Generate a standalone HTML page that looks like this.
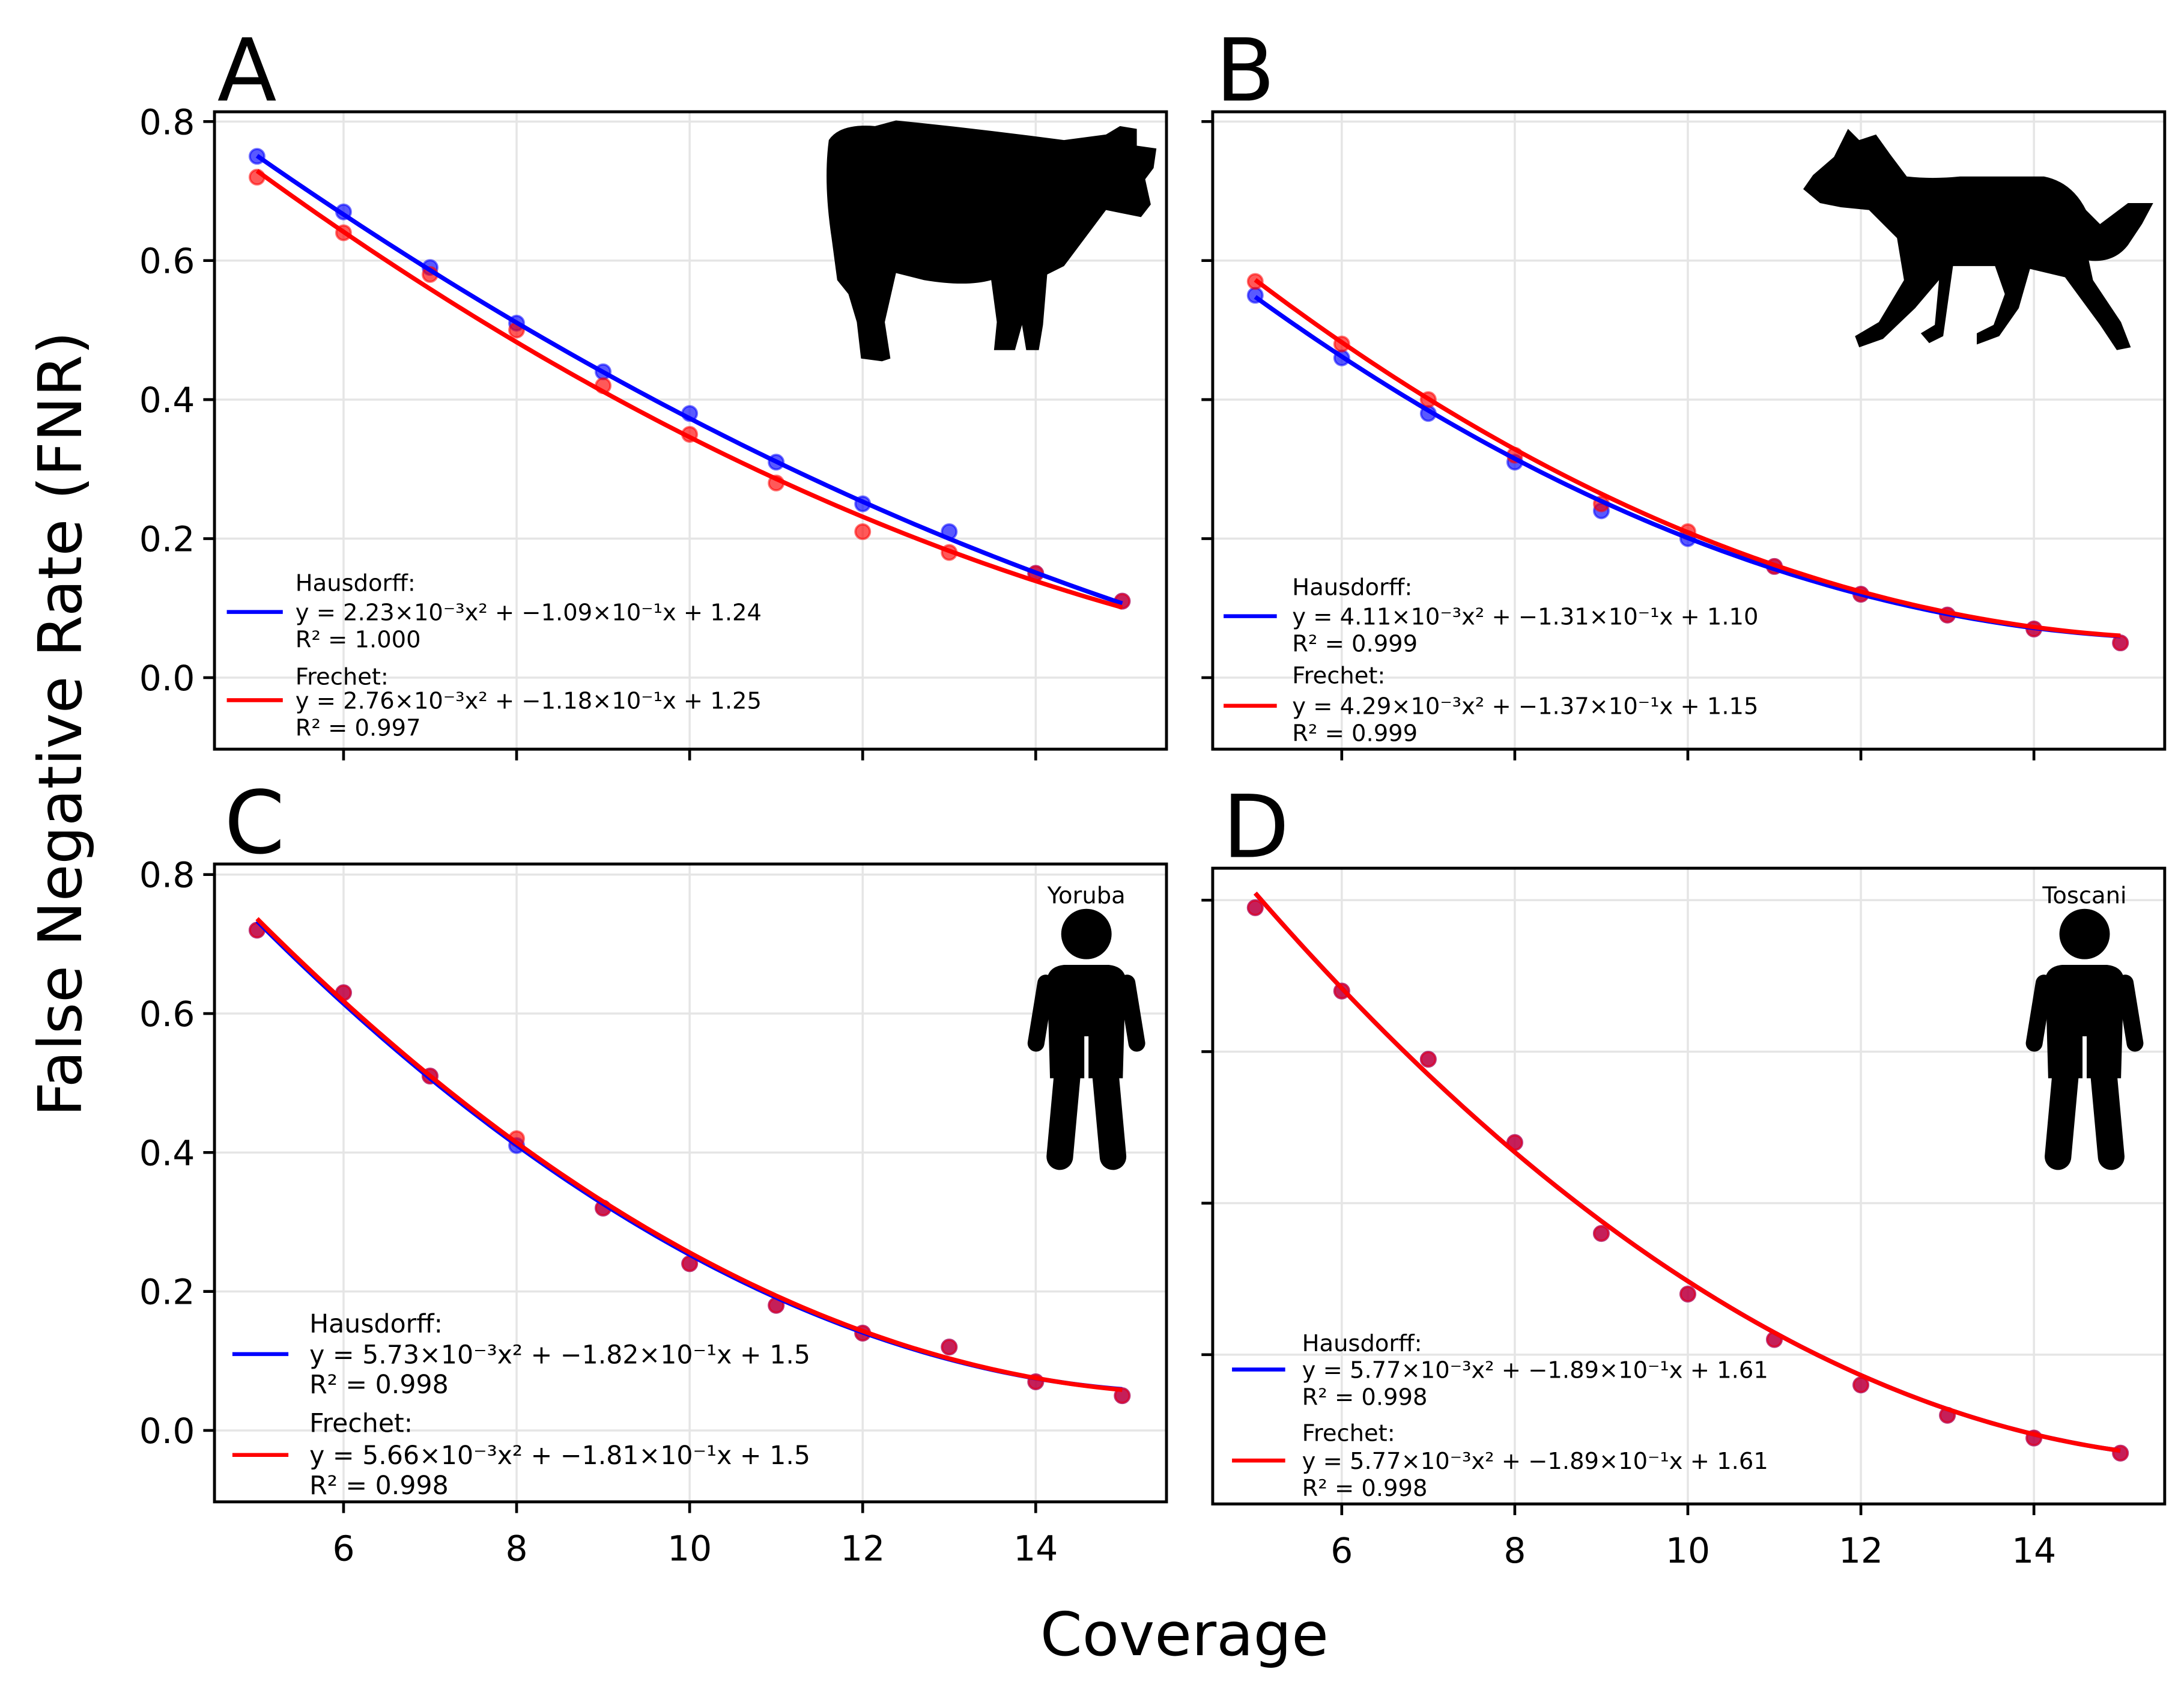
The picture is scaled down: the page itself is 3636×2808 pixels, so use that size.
<!DOCTYPE html>
<html><head><meta charset="utf-8"><style>
html,body{margin:0;padding:0;background:#fff}
svg{display:block}
text{font-family:"DejaVu Sans","Liberation Sans",sans-serif}
</style></head><body>
<svg id="fig" xmlns="http://www.w3.org/2000/svg" width="3636" height="2808" viewBox="0 0 1560 1204.7">
<rect width="1560" height="1204.7" fill="#fff"/>
<g id="content"></g>
<text x="0" y="0" font-size="43" text-anchor="middle" transform="translate(58,517) rotate(-90)">False Negative Rate (FNR)</text>
<text x="846" y="1182" font-size="43" text-anchor="middle">Coverage</text>
</svg>
<script>
const xs = [5,6,7,8,9,10,11,12,13,14,15];
const xTicks = [6,8,10,12,14];
const yTicks = [0.0,0.2,0.4,0.6,0.8];
const yTickLabels = ["0.0","0.2","0.4","0.6","0.8"];
const dTicks = [0.2,0.4,0.6,0.8];
const aHaus = [0.75,0.67,0.59,0.51,0.44,0.38,0.31,0.25,0.21,0.15,0.11];
const aFrec = [0.72,0.64,0.58,0.50,0.42,0.35,0.28,0.21,0.18,0.15,0.11];
const bHaus = [0.55,0.46,0.38,0.31,0.24,0.20,0.16,0.12,0.09,0.07,0.05];
const bFrec = [0.57,0.48,0.40,0.32,0.25,0.21,0.16,0.12,0.09,0.07,0.05];
const cHaus = [0.72,0.63,0.51,0.41,0.32,0.24,0.18,0.14,0.12,0.07,0.05];
const cFrec = [0.72,0.63,0.51,0.42,0.32,0.24,0.18,0.14,0.12,0.07,0.05];
const dHaus = [0.79,0.68,0.59,0.48,0.36,0.28,0.22,0.16,0.12,0.09,0.07];
const dFrec = [0.79,0.68,0.59,0.48,0.36,0.28,0.22,0.16,0.12,0.09,0.07];
const aFitH = [2.23e-3,-1.09e-1,1.24], aFitF = [2.76e-3,-1.18e-1,1.25];
const bFitH = [4.11e-3,-1.31e-1,1.10], bFitF = [4.29e-3,-1.37e-1,1.15];
const cFitH = [5.73e-3,-1.82e-1,1.5], cFitF = [5.66e-3,-1.81e-1,1.5];
const dFitH = [5.77e-3,-1.89e-1,1.61], dFitF = [5.77e-3,-1.89e-1,1.61];

const NS="http://www.w3.org/2000/svg";
const root=document.getElementById('content');
function mk(tag,attrs,parent){const e=document.createElementNS(NS,tag);for(const k in attrs)e.setAttribute(k,attrs[k]);(parent||root).appendChild(e);return e;}

const panels=[
 {id:'a',letter:'A',x0:153.2,x1:833.2,y0:79.8,y1:535,yv0:0.0,yp0:483.9,ppu:496.4,H:aHaus,F:aFrec,fh:aFitH,ff:aFitF,ylab:true,xlab:false,ticks:yTicks,
  eqH:["y = 2.23×10⁻³x² + −1.09×10⁻¹x + 1.24","R² = 1.000"],eqF:["y = 2.76×10⁻³x² + −1.18×10⁻¹x + 1.25","R² = 0.997"],
  leg:{lx0:162,lx1:202,tx:211,hy:416,ly1:437,fy:483,ly2:500,fs:16.5}},
 {id:'b',letter:'B',x0:866.2,x1:1546.2,y0:79.8,y1:535,yv0:0.0,yp0:483.9,ppu:496.4,H:bHaus,F:bFrec,fh:bFitH,ff:bFitF,ylab:false,xlab:false,ticks:yTicks,
  eqH:["y = 4.11×10⁻³x² + −1.31×10⁻¹x + 1.10","R² = 0.999"],eqF:["y = 4.29×10⁻³x² + −1.37×10⁻¹x + 1.15","R² = 0.999"],
  leg:{lx0:874,lx1:912,tx:923,hy:419,ly1:440,fy:482,ly2:504,fs:16.5}},
 {id:'c',letter:'C',x0:153.2,x1:833.2,y0:617,y1:1072.5,yv0:0.0,yp0:1021.5,ppu:496.2,H:cHaus,F:cFrec,fh:cFitH,ff:cFitF,ylab:true,xlab:true,ticks:yTicks,
  eqH:["y = 5.73×10⁻³x² + −1.82×10⁻¹x + 1.5","R² = 0.998"],eqF:["y = 5.66×10⁻³x² + −1.81×10⁻¹x + 1.5","R² = 0.998"],
  leg:{lx0:166,lx1:206,tx:221,hy:945,ly1:967,fy:1016,ly2:1039,fs:18.3}},
 {id:'d',letter:'D',x0:866.2,x1:1546.2,y0:620,y1:1074,yv0:0.0,yp0:1075.6,ppu:541,H:dHaus,F:dFrec,fh:dFitH,ff:dFitF,ylab:false,xlab:true,ticks:dTicks,
  eqH:["y = 5.77×10⁻³x² + −1.89×10⁻¹x + 1.61","R² = 0.998"],eqF:["y = 5.77×10⁻³x² + −1.89×10⁻¹x + 1.61","R² = 0.998"],
  leg:{lx0:880,lx1:918,tx:930,hy:959,ly1:978,fy:1023,ly2:1043,fs:16.5}}
];

panels.forEach(p=>{
  const g=mk('g',{});
  
  
  const X=v=>p.x0+30.4+(v-5)*61.8;
  const Y=v=>p.yp0-(v-p.yv0)*p.ppu;
  xTicks.forEach(t=>{const l=mk('line',{x1:X(t),x2:X(t),y1:p.y0,y2:p.y1,stroke:'#e5e5e5','stroke-width':1.5},g);
    });
  p.ticks.forEach(t=>{const l=mk('line',{x1:p.x0,x2:p.x1,y1:Y(t),y2:Y(t),stroke:'#e5e5e5','stroke-width':1.5},g);
    });
  xTicks.forEach(t=>{mk('line',{x1:X(t),x2:X(t),y1:p.y1,y2:p.y1+8,stroke:'#000','stroke-width':2},g);
    if(p.xlab){const tx=mk('text',{x:X(t),y:p.y1+42,'font-size':25,'text-anchor':'middle'},g);tx.textContent=t;
      }});
  p.ticks.forEach((t,i)=>{mk('line',{x1:p.x0-8,x2:p.x0,y1:Y(t),y2:Y(t),stroke:'#000','stroke-width':2},g);
    if(p.ylab){const tx=mk('text',{x:p.x0-14,y:Y(t)+9,'font-size':25,'text-anchor':'end'},g);tx.textContent=yTickLabels[i];
      }});
  [[p.H,'#0000ff','hausdorff-point'],[p.F,'#ff0000','frechet-point']].forEach(([arr,col,nm])=>{
    arr.forEach((v,i)=>{const c=mk('circle',{cx:X(xs[i]),cy:Y(v),r:5.2,fill:col,'fill-opacity':0.65,stroke:col,'stroke-opacity':0.55,'stroke-width':1.6},g);
      });
  });
  [[p.fh,'#0000ff','hausdorff-fit-line'],[p.ff,'#ff0000','frechet-fit-line']].forEach(([c,col,nm])=>{
    let d='';for(let k=0;k<=100;k++){const x=5+k*0.1;const y=c[0]*x*x+c[1]*x+c[2];d+=(k?'L':'M')+X(x).toFixed(2)+' '+Y(y).toFixed(2);}
    const pa=mk('path',{d:d,fill:'none',stroke:col,'stroke-width':3.2,'stroke-linejoin':'round'},g);
    
  });
  const fr=mk('rect',{x:p.x0,y:p.y0,width:p.x1-p.x0,height:p.y1-p.y0,fill:'none',stroke:'#000','stroke-width':2.1},g);
  
  const L=mk('text',{x:p.x0+2+(p.id==='c'||p.id==='d'?5:0),y:p.y0-8,'font-size':62},g);L.textContent=p.letter;
  
  const lg=p.leg;const lgG=mk('g',{},g);
  
  const sp=lg.fs*1.17;
  const addT=(txt,y)=>{const t=mk('text',{x:lg.tx,y:y+lg.fs*0.36,'font-size':lg.fs},lgG);t.textContent=txt;return t;};
  let t1=addT('Hausdorff:',lg.hy);
  addT(p.eqH[0],lg.ly1);addT(p.eqH[1],lg.ly1+sp);
  let t2=addT('Frechet:',lg.fy);
  addT(p.eqF[0],lg.ly2);addT(p.eqF[1],lg.ly2+sp);
  mk('line',{x1:lg.lx0,x2:lg.lx1,y1:lg.ly1,y2:lg.ly1,stroke:'#0000ff','stroke-width':2.8},lgG);
  mk('line',{x1:lg.lx0,x2:lg.lx1,y1:lg.ly2,y2:lg.ly2,stroke:'#ff0000','stroke-width':2.8},lgG);
});

const cow=mk('path',{fill:'#000',d:'M592 100 Q600 88 625 90 L640 86 Q700 92 760 100 L790 96 L800 90 L812 92 L812 104 L826 106 L824 120 L818 128 L822 146 L815 155 L800 152 L790 150 Q775 170 760 190 L748 196 L745 232 L742 250 L733 250 L730 232 L725 250 L710 250 L712 230 L708 200 Q690 205 660 200 L640 195 L632 230 L636 256 L630 258 L615 256 L612 230 L606 210 L598 200 L594 170 Q588 130 592 100 Z'});

const wolf=mk('path',{fill:'#000',d:'M1320 92 L1328 100 L1340 96 L1350 110 L1362 126 Q1380 128 1400 126 L1460 126 Q1480 130 1490 150 L1500 160 L1520 145 L1538 145 L1530 160 L1520 175 Q1510 188 1492 186 L1495 200 L1515 230 L1522 248 L1512 250 L1500 232 L1475 198 L1450 192 L1442 220 L1428 240 L1412 246 L1412 238 L1424 232 L1432 210 L1425 190 L1395 190 L1388 240 L1378 245 L1372 238 L1382 232 L1385 200 L1368 220 L1345 242 L1328 248 L1325 240 L1342 230 L1360 200 L1355 170 L1335 150 L1315 148 L1300 145 L1288 135 L1295 125 L1310 112 Z'});

[[776,'Yoruba','yoruba'],[1489,'Toscani','toscani']].forEach(([cx,lab,nm])=>{
  const g=mk('g',{});
  mk('circle',{cx:cx,cy:667,r:18,fill:'#000'},g);
  mk('path',{d:`M${cx-28} 698 Q${cx-26} 690 ${cx-16} 689 L${cx+16} 689 Q${cx+26} 690 ${cx+28} 698 L${cx+26} 770 L${cx-26} 770 Z`,fill:'#000'},g);
  mk('path',{d:`M${cx-29} 702 L${cx-36} 745 M${cx+29} 702 L${cx+36} 745`,stroke:'#000','stroke-width':12,'stroke-linecap':'round',fill:'none'},g);
  mk('path',{d:`M${cx-13} 760 L${cx-19} 826 M${cx+13} 760 L${cx+19} 826`,stroke:'#000','stroke-width':19,'stroke-linecap':'round',fill:'none'},g);
  mk('line',{x1:cx,x2:cx,y1:740,y2:815,stroke:'#fff','stroke-width':3},g);
  const t=mk('text',{x:cx,y:645,'font-size':16.5,'text-anchor':'middle'},g);t.textContent=lab;
  
});
</script>
</body></html>
